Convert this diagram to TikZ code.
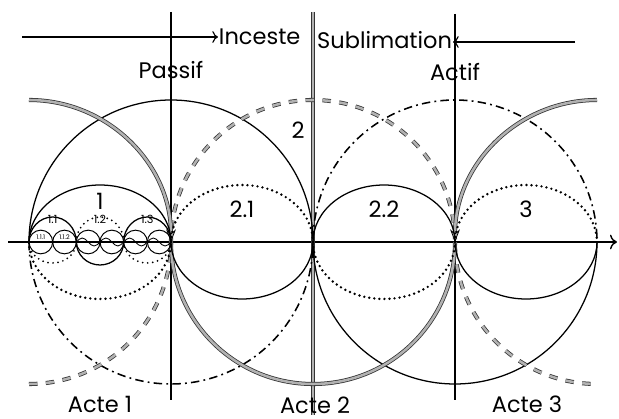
\documentclass[tikz,border=0pt]{standalone}
\usepackage{fontspec}
\setmainfont{Poppins}
\usetikzlibrary{arrows.meta}
\tikzset{
  solidarc/.style={line width=0.9pt},
  greyarc/.style={draw=black!80,line width=0.55pt,double=gray!60,double distance=1.8pt},
  greydash/.style={greyarc,dash pattern=on 6pt off 6pt},
  dotarc/.style={line width=1.9pt,line cap=round,dash pattern=on 0pt off 3.6pt},
  dasharc/.style={line width=1.1pt,dash pattern=on 6pt off 3pt on 1.3pt off 3pt},
  greytip/.style={-{Stealth[fill=gray!60,color=black,length=9pt,width=7pt]}},
  lab/.style={font=\fontsize{16}{16}\selectfont,inner sep=0.5pt},
  smalllab/.style={font=\fontsize{8}{8}\selectfont,inner sep=0pt},
  tinylab/.style={font=\fontsize{4.5}{4.5}\selectfont,inner sep=0pt},
}
\begin{document}
\begin{tikzpicture}[x=0.025cm,y=0.025cm]
\useasboundingbox (0,-177) rectangle (619,242);
\coordinate (axL) at (8,0);
\coordinate (axR) at (617,0);
\draw[line width=1pt,-{To[length=5pt]}] (axL)--(axR);
\coordinate (passT) at (171,230);
\coordinate (passB) at (171,-158);
\coordinate (midT) at (313,230);
\coordinate (midB) at (313,-173);
\coordinate (actT) at (455,228);
\coordinate (actB) at (455,-158);
\draw[line width=1.3pt] (passT)--(passB);
\draw[line width=1.3pt] (actT)--(actB);
\draw[greyarc] (midT)--(midB);
\draw[solidarc] (29,0) arc[start angle=180,end angle=0,radius=142];
\draw[solidarc] (313,0) arc[start angle=180,end angle=360,radius=142];
\draw[dasharc] (29,0) arc[start angle=180,end angle=360,radius=142]
  arc[start angle=180,end angle=0,radius=142];
\draw[greydash] (29,-142) arc[start angle=270,end angle=360,radius=142]
  arc[start angle=180,end angle=0,radius=142]
  arc[start angle=180,end angle=270,radius=142];
\draw[greyarc,greytip] (29,142) arc[start angle=90,end angle=0,radius=142];
\draw[greyarc] (171,0) arc[start angle=180,end angle=360,radius=142];
\draw[greyarc,greytip] (597,142) arc[start angle=90,end angle=180,radius=142];
\foreach \cx in {100,384}{
  \draw[solidarc] (\cx-71,0) arc[start angle=180,end angle=0,x radius=71,y radius=57];
  \draw[dotarc] (\cx-71,0) arc[start angle=180,end angle=360,x radius=71,y radius=57];
}
\foreach \cx in {242,526}{
  \draw[dotarc] (\cx-71,0) arc[start angle=180,end angle=0,x radius=71,y radius=57];
  \draw[solidarc] (\cx-71,0) arc[start angle=180,end angle=360,x radius=71,y radius=57];
}
\foreach \cx in {52.67,147.33}{
  \draw[solidarc] (\cx-23.67,0) arc[start angle=180,end angle=0,x radius=23.67,y radius=25];
  \draw[dotarc,line width=1.4pt] (\cx-23.67,0) arc[start angle=180,end angle=360,x radius=23.67,y radius=21];
}
\draw[dotarc,line width=1.4pt] (76.33,0) arc[start angle=180,end angle=0,x radius=23.67,y radius=25];
\draw[solidarc] (76.33,0) arc[start angle=180,end angle=360,x radius=23.67,y radius=23];
\foreach \k in {0,...,5}
  \draw[line width=0.7pt] (40.83+23.67*\k,0) circle[radius=11.83];
\foreach \k in {2,...,5}
  \draw[line width=0.6pt] (29+23.67*\k,0) sin (34.92+23.67*\k,4) cos (40.83+23.67*\k,0)
    sin (46.75+23.67*\k,-4) cos (52.67+23.67*\k,0);
\node[tinylab] (t111) at (40.83,5) {1.1.1};
\node[tinylab] (t112) at (64.5,5) {1.1.2};
\node[smalllab] (s11) at (52.67,23) {1.1};
\node[smalllab] (s12) at (100,23) {1.2};
\node[smalllab] (s13) at (147.33,23) {1.3};
\node[lab] (l1) at (100,41) {1};
\node[lab] (l21) at (242,33) {2.1};
\node[lab] (l22) at (384,33) {2.2};
\node[lab] (l3) at (526,33) {3};
\node[lab] (l2) at (298,112) {2};
\node[lab] (passif) at (171,172) {Passif};
\node[lab] (actif) at (455,170) {Actif};
\node[lab,anchor=west] (inceste) at (218,205) {Inceste};
\node[lab,anchor=east] (sublim) at (453,202) {Sublimation};
\coordinate (incA) at (22,205);
\coordinate (subA) at (575,200);
\draw[line width=0.8pt,-{To[length=4pt]}] (incA)--(inceste.west);
\draw[line width=0.8pt,-{To[length=4pt]}] (subA)--(sublim.east|-subA);
\node[lab] (acte1) at (100,-162) {Acte 1};
\node[lab] (acte2) at (315,-163) {Acte 2};
\node[lab] (acte3) at (527,-162) {Acte 3};
\end{tikzpicture}
\end{document}
